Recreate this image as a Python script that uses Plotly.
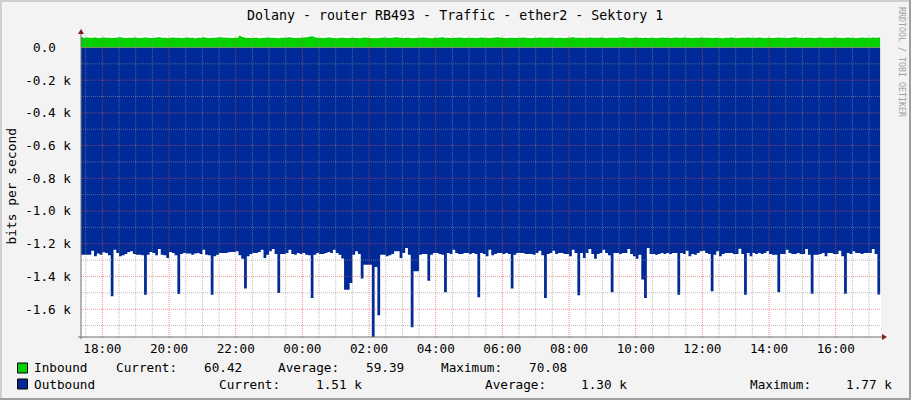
import plotly.graph_objects as go
import pandas as pd

# ---------------- data ----------------
TITLE = "Dolany - router RB493 - Traffic - ether2 - Sektory 1"
Y_LABEL = "bits per second"
WATERMARK = "RRDTOOL / TOBI OETIKER"

START = "2013-05-14 17:20"          # first 5-minute sample
RANGE_START = "2013-05-14 17:21:30"  # left edge of the graph (24 h window)
RANGE_END = "2013-05-15 17:21:30"

# Inbound traffic, bits per second (5-minute samples, one row per hour)
inbound = [
    62, 60, 61, 59, 60, 61, 58, 60, 61, 59, 60, 58,
    59, 61, 62, 60, 58, 59, 60, 61, 59, 58, 60, 61,
    60, 58, 59, 61, 62, 60, 59, 58, 60, 61, 60, 59,
    58, 60, 61, 60, 59, 57, 59, 60, 62, 60, 58, 59,
    60, 61, 62, 61, 60, 59, 58, 59, 60, 70.08, 64, 60,
    59, 58, 60, 59, 57, 58, 60, 61, 60, 59, 58, 57,
    59, 60, 61, 62, 60, 58, 59, 60, 61, 63, 66, 68,
    62, 60, 59, 58, 60, 61, 59, 58, 57, 59, 60, 58,
    57, 59, 60, 58, 57, 59, 61, 60, 58, 56, 57, 58,
    60, 61, 59, 58, 60, 62, 61, 59, 58, 60, 59, 57,
    58, 59, 60, 61, 60, 58, 57, 59, 60, 61, 62, 60,
    59, 58, 60, 59, 61, 60, 58, 59, 60, 59, 58, 60,
    61, 60, 59, 58, 60, 61, 62, 60, 59, 58, 59, 60,
    58, 59, 60, 61, 59, 58, 57, 59, 60, 61, 60, 59,
    60, 61, 59, 58, 60, 59, 58, 60, 61, 62, 60, 59,
    59, 58, 60, 61, 60, 59, 60, 61, 59, 58, 59, 60,
    60, 59, 61, 62, 60, 58, 59, 60, 61, 59, 58, 59,
    58, 60, 59, 58, 60, 61, 60, 59, 58, 60, 61, 59,
    60, 61, 60, 59, 58, 59, 60, 61, 60, 59, 60, 58,
    59, 60, 58, 57, 59, 60, 61, 59, 58, 60, 59, 60,
    61, 60, 59, 60, 61, 59, 58, 60, 59, 58, 60, 61,
    60, 59, 58, 60, 61, 62, 60, 59, 58, 59, 60, 59,
    58, 60, 61, 59, 58, 60, 59, 61, 60, 59, 58, 60,
    61, 60, 59, 58, 60, 61, 60, 59, 60, 61, 59, 60.42,
    60.42,
]

# Outbound traffic, bits per second (drawn below zero)
outbound = [
    1267, 1267, 1267, 1267, 1242, 1277, 1260, 1267, 1252, 1256, 1271, 1521,
    1236, 1256, 1277, 1271, 1263, 1250, 1246, 1263, 1267, 1267, 1271, 1511,
    1267, 1250, 1256, 1271, 1232, 1267, 1271, 1287, 1250, 1256, 1271, 1507,
    1263, 1256, 1260, 1260, 1267, 1260, 1256, 1263, 1236, 1267, 1271, 1511,
    1277, 1267, 1256, 1256, 1256, 1252, 1250, 1250, 1246, 1271, 1291, 1474,
    1277, 1263, 1256, 1256, 1250, 1236, 1287, 1267, 1246, 1232, 1263, 1501,
    1263, 1263, 1256, 1236, 1263, 1267, 1256, 1263, 1256, 1267, 1271, 1531,
    1267, 1256, 1263, 1263, 1256, 1250, 1256, 1236, 1256, 1267, 1290, 1481,
    1481, 1440, 1267, 1246, 1263, 1413, 1328, 1328, 1328, 1770, 1342, 1637,
    1267, 1267, 1277, 1271, 1263, 1246, 1246, 1287, 1256, 1226, 1267, 1711,
    1368, 1368, 1267, 1263, 1263, 1426, 1267, 1256, 1256, 1263, 1267, 1497,
    1256, 1263, 1236, 1256, 1263, 1263, 1256, 1256, 1263, 1256, 1263, 1527,
    1256, 1263, 1277, 1236, 1271, 1263, 1256, 1256, 1263, 1256, 1263, 1474,
    1267, 1256, 1256, 1256, 1263, 1263, 1263, 1267, 1256, 1242, 1271, 1531,
    1263, 1256, 1242, 1263, 1256, 1256, 1263, 1263, 1277, 1236, 1256, 1515,
    1256, 1287, 1256, 1232, 1263, 1291, 1263, 1256, 1236, 1256, 1271, 1497,
    1256, 1256, 1263, 1256, 1256, 1232, 1263, 1277, 1291, 1267, 1419, 1531,
    1226, 1263, 1263, 1267, 1263, 1256, 1263, 1256, 1263, 1256, 1256, 1511,
    1256, 1263, 1242, 1277, 1263, 1267, 1256, 1246, 1242, 1256, 1263, 1491,
    1267, 1246, 1277, 1263, 1256, 1256, 1256, 1263, 1263, 1230, 1263, 1511,
    1256, 1277, 1256, 1263, 1256, 1263, 1256, 1246, 1263, 1267, 1267, 1497,
    1263, 1263, 1236, 1256, 1263, 1263, 1256, 1263, 1263, 1232, 1267, 1505,
    1267, 1267, 1263, 1256, 1277, 1256, 1256, 1263, 1263, 1242, 1277, 1505,
    1256, 1263, 1246, 1256, 1256, 1263, 1256, 1256, 1256, 1232, 1263, 1510,
    1510,
]

# y ticks with a "k" suffix go on the axis; the zero label has no unit
zero_label = "0.0"
y_tick_vals = [-200, -400, -600, -800, -1000, -1200, -1400, -1600]
y_tick_text = ["-0.2 k", "-0.4 k", "-0.6 k", "-0.8 k", "-1.0 k",
               "-1.2 k", "-1.4 k", "-1.6 k"]
Y_RANGE = [-1770, 70]

legend_names = ["Inbound", "Outbound"]
stat_labels = ["Current:", "Average:", "Maximum:"]
inbound_stats = ["60.42", "59.39", "70.08"]
outbound_stats = ["1.51 k", "1.30 k", "1.77 k"]

# ---------------- style ----------------
FONT = "DejaVu Sans Mono"
BG = "#F3F3F3"
GREEN = "#00CF00"
BLUE = "#002A97"
MAJOR = "rgba(222,79,79,0.6)"
MINOR = "rgba(143,143,143,0.6)"
ARROW = "#801F1F"
AXIS = "#707070"

W, H = 911, 400
L, R, T, B = 81, 30, 36, 63
PW, PH = W - L - R, H - T - B


def px(x):
    return (x - L) / PW


def py(y):
    return (H - B - y) / PH


times = pd.date_range(START, periods=len(outbound), freq="5min")

fig = go.Figure()
fig.add_trace(go.Scatter(
    x=times, y=[-v for v in outbound], mode="lines", fill="tozeroy",
    line=dict(width=0, shape="hv"), fillcolor=BLUE, hoverinfo="skip"))
fig.add_trace(go.Scatter(
    x=times, y=inbound, mode="lines", fill="tozeroy",
    line=dict(width=0, shape="hv"), fillcolor=GREEN, hoverinfo="skip"))

shapes = []
# horizontal grid (drawn above the areas, like rrdtool)
for v in range(-1700, 1, 100):
    shapes.append(dict(type="line", xref="paper", yref="y", x0=0, x1=1, y0=v, y1=v,
                       line=dict(color=MAJOR if v % 200 == 0 else MINOR, width=1, dash="1px,1px"),
                       layer="above"))
# vertical grid
for t in pd.date_range("2013-05-14 17:30", "2013-05-15 17:00", freq="30min"):
    major = t.minute == 0 and t.hour % 2 == 0
    ts = t.strftime("%Y-%m-%d %H:%M:%S")
    shapes.append(dict(type="line", xref="x", yref="paper", x0=ts, x1=ts, y0=0, y1=1,
                       line=dict(color=MAJOR if major else MINOR, width=1, dash="1px,1px"),
                       layer="above"))
# axes
shapes.append(dict(type="line", xref="paper", yref="paper", x0=0, x1=0, y0=py(339), y1=py(33),
                   line=dict(color=AXIS, width=1), layer="above"))
shapes.append(dict(type="line", xref="paper", yref="paper", x0=px(78), x1=px(884), y0=0, y1=0,
                   line=dict(color=AXIS, width=1), layer="above"))
# arrows
shapes.append(dict(type="path", xref="paper", yref="paper", xsizemode="pixel", ysizemode="pixel",
                   xanchor=0, yanchor=1, path="M -3,2 L 3,2 L 0,7 Z",
                   fillcolor=ARROW, line=dict(width=0), layer="above"))
shapes.append(dict(type="path", xref="paper", yref="paper", xsizemode="pixel", ysizemode="pixel",
                   xanchor=1, yanchor=0, path="M 1,-3 L 1,3 L 6,0 Z",
                   fillcolor=ARROW, line=dict(width=0), layer="above"))
# legend swatches
for i, col in enumerate([GREEN, BLUE]):
    top = 363 + 16 * i
    shapes.append(dict(type="rect", xref="paper", yref="paper",
                       x0=px(17.5), x1=px(27.5), y0=py(top), y1=py(top + 10),
                       fillcolor=col, line=dict(color="black", width=1)))
# frame shading
shapes.append(dict(type="rect", xref="paper", yref="paper", x0=px(0), x1=px(909), y0=py(0), y1=py(2),
                   fillcolor="#CFCFCF", line=dict(width=0)))
shapes.append(dict(type="rect", xref="paper", yref="paper", x0=px(0), x1=px(2), y0=py(0), y1=py(398),
                   fillcolor="#CFCFCF", line=dict(width=0)))
shapes.append(dict(type="rect", xref="paper", yref="paper", x0=px(909), x1=px(911), y0=py(0), y1=py(400),
                   fillcolor="#9E9E9E", line=dict(width=0)))
shapes.append(dict(type="rect", xref="paper", yref="paper", x0=px(0), x1=px(911), y0=py(398), y1=py(400),
                   fillcolor="#9E9E9E", line=dict(width=0)))

ann = []


def text(s, x, y, size=12.7, anchor="left", angle=0, color="black"):
    ann.append(dict(text=s, x=px(x), y=py(y), xref="paper", yref="paper", showarrow=False,
                    xanchor=anchor, yanchor="middle", textangle=angle, borderpad=0,
                    font=dict(family=FONT, size=size, color=color)))


text(TITLE, 455, 15, size=13.3, anchor="center")
text(Y_LABEL, 11, 186.5, size=12.9, anchor="center", angle=-90)
text(WATERMARK, 902, 62, size=8.3, anchor="center", angle=90, color="#A0A0A0")

# zero tick label (number column aligned with the "-0.2" part of the other labels)
ann.append(dict(text=zero_label, x=px(57), y=0, xref="paper", yref="y", showarrow=False,
                xanchor="right", yanchor="middle", borderpad=0,
                font=dict(family=FONT, size=12.7, color="black")))

# legend rows
row1_x = [116, 278, 441]
row1_v = [204, 366, 529]
row2_x = [219, 485, 750]
row2_v = [315.6, 581, 845.6]
text(legend_names[0], 33, 368)
text(legend_names[1], 33, 384)
for i in range(3):
    text(stat_labels[i], row1_x[i] - 1, 368)
    text(inbound_stats[i], row1_v[i] - 1, 368)
    text(stat_labels[i], row2_x[i] - 1, 384)
    text(outbound_stats[i], row2_v[i] - 1, 384)

fig.update_layout(
    width=W, height=H,
    margin=dict(l=L, r=R, t=T, b=B, pad=0),
    paper_bgcolor=BG, plot_bgcolor="white",
    showlegend=False,
    shapes=shapes, annotations=ann,
    xaxis=dict(type="date", range=[RANGE_START, RANGE_END], showgrid=False, zeroline=False,
               showline=False, tickformat="%H:%M", dtick=7200000, tick0="2013-05-14 00:00",
               ticks="", tickfont=dict(family=FONT, size=12.7, color="black"),
               ticklabelstandoff=2, fixedrange=True),
    yaxis=dict(range=Y_RANGE, showgrid=False, zeroline=False, showline=False,
               tickvals=y_tick_vals, ticktext=y_tick_text, ticks="",
               tickfont=dict(family=FONT, size=12.7, color="black"),
               ticklabelstandoff=9, fixedrange=True),
)

fig.write_html("out.html", config={"displayModeBar": False},
               post_script="document.body.style.margin='0';")
